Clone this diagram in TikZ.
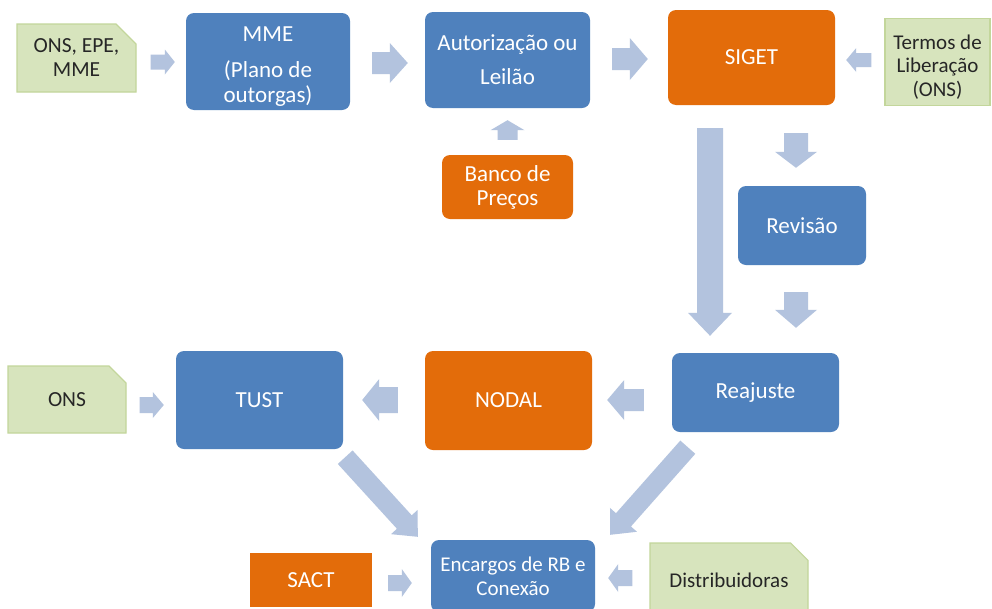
\documentclass[tikz,border=0pt]{standalone}
\usepackage{fontspec}
\setmainfont{Carlito}
\usetikzlibrary{calc,shapes.misc}
\definecolor{cblue}{HTML}{4F81BD}
\definecolor{corange}{HTML}{E36C0A}
\definecolor{carrow}{HTML}{B3C3DE}
\definecolor{cgreen}{HTML}{D7E4BD}
\definecolor{cgreenb}{HTML}{C3D69B}
\definecolor{ctext}{HTML}{262626}
\tikzset{
  box/.style={rectangle, rounded corners=8pt, inner sep=0pt, align=center, text=white,
    font=\fontsize{23}{25}\selectfont},
  bbox/.style={box, fill=cblue},
  obox/.style={box, fill=corange},
  gbox/.style={chamfered rectangle, chamfered rectangle corners=north east,
    chamfered rectangle xsep=10pt, chamfered rectangle ysep=10pt,
    fill=cgreen, draw=cgreenb, line width=1.2pt, inner sep=0pt, align=center, text=ctext,
    font=\fontsize{21.5}{24}\selectfont},
  gboxplain/.style={rectangle, fill=cgreen, draw=cgreenb, line width=1.2pt, inner sep=0pt,
    align=center, text=ctext, font=\fontsize{21}{23.5}\selectfont},
  arrowc/.style={fill=carrow}
}
\newcommand\blkarrow[5]{%
  \coordinate (bah) at ($(#2)!#5!(#1)$);
  \fill[arrowc] ($(#1)!#3!90:(#2)$) -- ($(bah)!#3!-90:(#1)$) -- ($(bah)!#4!-90:(#1)$) -- (#2)
    -- ($(bah)!#4!90:(#1)$) -- ($(bah)!#3!90:(#1)$) -- ($(#1)!#3!-90:(#2)$) -- cycle;}
\begin{document}
\begin{tikzpicture}[x=1pt,y=-1pt]
\useasboundingbox (0,0) rectangle (992,608);
\clip (0,0) rectangle (992,608);
\fill[white] (0,0) rectangle (992,608);
% nodes
\node[gbox, minimum width=119pt, minimum height=68pt] (g1) at (76.5,58) {ONS, EPE,\\MME};
\node[bbox, minimum width=164pt, minimum height=97pt] (mme) at (268,61.5) {\rule{0pt}{24pt}MME\\[11pt](Plano de\\outorgas)};
\node[bbox, minimum width=165pt, minimum height=96pt] (aut) at (507.5,60) {Autorização ou\\[9pt]Leilão};
\node[obox, minimum width=167pt, minimum height=95pt] (siget) at (751.5,57.5) {SIGET};
\node[gboxplain, minimum width=105pt, minimum height=87pt] (g2) at (937.5,62) {\rule{0pt}{24pt}Termos de\\Liberação\\(ONS)};
\node[obox, minimum width=131pt, minimum height=64pt] (banco) at (507.5,187) {Banco de\\[-1pt]Preços};
\node[bbox, minimum width=128pt, minimum height=79pt] (rev) at (802,225.5) {Revisão};
\node[bbox, minimum width=167pt, minimum height=79pt] (reaj) at (755.5,392.5) {Reajuste};
\node[obox, minimum width=167pt, minimum height=99pt] (nodal) at (508.5,400.5) {NODAL};
\node[bbox, minimum width=167pt, minimum height=98pt] (tust) at (259.5,400) {TUST};
\node[gbox, minimum width=118pt, minimum height=67pt] (g3) at (67,399.5) {ONS};
\node[bbox, minimum width=164pt, minimum height=72pt, font=\fontsize{21}{24}\selectfont] (enc) at (513,576) {Encargos de RB e\\Conexão};
\node[obox, minimum width=122pt, minimum height=54pt, rounded corners=0pt] (sact) at (311,580) {SACT};
\node[gbox, minimum width=158pt, minimum height=74pt, font=\fontsize{21}{24}\selectfont] (g4) at (729,580) {Distribuidoras};
% arrow end points
\coordinate (a1s) at ($(g1.east)+(14,4)$);   \coordinate (a1e) at ($(mme.west)+(-11,0.5)$);
\coordinate (a2s) at ($(mme.east)+(22,1.5)$); \coordinate (a2e) at ($(aut.west)+(-17,3)$);
\coordinate (a3s) at ($(aut.east)+(22,-1)$);  \coordinate (a3e) at ($(siget.west)+(-20,1.5)$);
\coordinate (a4s) at ($(g2.west)+(-13,-2)$);  \coordinate (a4e) at ($(siget.east)+(11,2.5)$);
\coordinate (a5s) at ($(banco.north)+(0,-15)$); \coordinate (a5e) at ($(aut.south)+(0,12)$);
\coordinate (a6s) at ($(siget.south)+(-41.5,23)$); \coordinate (a6e) at ($(reaj.north)+(-45.5,-17)$);
\coordinate (a7s) at ($(siget.south)+(44.5,28)$); \coordinate (a7e) at ($(rev.north)+(-6,-18)$);
\coordinate (a8s) at ($(rev.south)+(-6,27)$); \coordinate (a8e) at ($(reaj.north)+(40.5,-25)$);
\coordinate (a9s) at ($(reaj.west)+(-28,7.5)$); \coordinate (a9e) at ($(nodal.east)+(15,-0.5)$);
\coordinate (a10s) at ($(nodal.west)+(-27,-0.5)$); \coordinate (a10e) at ($(tust.east)+(19,0)$);
\coordinate (a11s) at ($(g3.east)+(13,5.5)$); \coordinate (a11e) at ($(tust.west)+(-12,5)$);
\coordinate (a12s) at ($(tust.south east)+(2,8)$); \coordinate (a12e) at ($(enc.north west)+(-13,-3)$);
\coordinate (a13s) at ($(reaj.south west)+(16,15)$); \coordinate (a13e) at ($(enc.north east)+(15,-5)$);
\coordinate (a14s) at ($(sact.east)+(16,3)$); \coordinate (a14e) at ($(enc.west)+(-19,7)$);
\coordinate (a15s) at ($(g4.west)+(-17,-2)$); \coordinate (a15e) at ($(enc.east)+(13,2)$);
% arrows
\blkarrow{a1s}{a1e}{7.5pt}{12.5pt}{10pt}
\blkarrow{a2s}{a2e}{11pt}{20pt}{18pt}
\blkarrow{a3s}{a3e}{11pt}{21pt}{18pt}
\blkarrow{a4s}{a4e}{7pt}{12pt}{10pt}
\blkarrow{a5s}{a5e}{10pt}{17pt}{10pt}
\blkarrow{a6s}{a6e}{13pt}{22pt}{23pt}
\blkarrow{a7s}{a7e}{12pt}{21pt}{16pt}
\blkarrow{a8s}{a8e}{12pt}{21pt}{18pt}
\blkarrow{a9s}{a9e}{11pt}{20pt}{17pt}
\blkarrow{a10s}{a10e}{13pt}{21pt}{17pt}
\blkarrow{a11s}{a11e}{8pt}{13pt}{11pt}
\blkarrow{a12s}{a12e}{10pt}{18pt}{20pt}
\blkarrow{a13s}{a13e}{10pt}{18pt}{20pt}
\blkarrow{a14s}{a14e}{8pt}{14pt}{10pt}
\blkarrow{a15s}{a15e}{8pt}{14pt}{10pt}
\end{tikzpicture}
\end{document}
